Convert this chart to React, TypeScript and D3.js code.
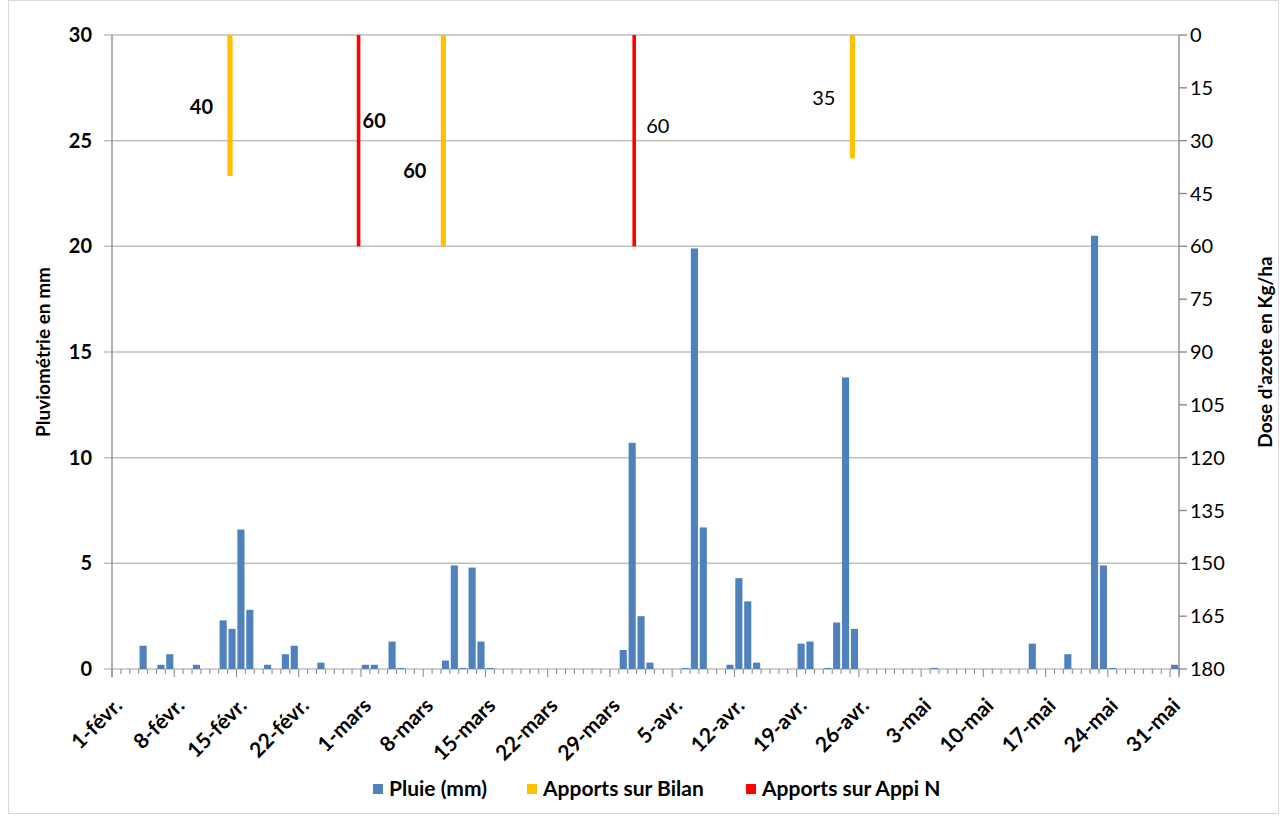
import React from 'react';
import * as d3 from 'd3';

// daily rainfall (mm), 1 févr. -> 31 mai (120 days)
const pluie = [
  0, 0, 0, 1.1, 0, 0.2, 0.7,
  0, 0, 0.2, 0, 0, 2.3, 1.9,
  6.6, 2.8, 0, 0.2, 0, 0.7, 1.1,
  0, 0, 0.3, 0, 0, 0, 0,
  0.2, 0.2, 0, 1.3, 0.05, 0, 0,
  0, 0, 0.4, 4.9, 0.05, 4.8, 1.3,
  0.05, 0, 0, 0, 0, 0, 0,
  0, 0, 0, 0, 0, 0, 0,
  0, 0.9, 10.7, 2.5, 0.3, 0, 0,
  0, 0.05, 19.9, 6.7, 0, 0, 0.2,
  4.3, 3.2, 0.3, 0, 0, 0, 0,
  1.2, 1.3, 0, 0.05, 2.2, 13.8, 1.9,
  0, 0, 0, 0, 0, 0, 0,
  0, 0.05, 0, 0, 0, 0, 0,
  0, 0, 0, 0, 0, 1.2, 0,
  0, 0, 0.7, 0, 0, 20.5, 4.9,
  0.05, 0, 0, 0, 0, 0, 0,
  0.2,
];

const tickLabels = [
  '1-févr.', '8-févr.', '15-févr.', '22-févr.', '1-mars', '8-mars', '15-mars',
  '22-mars', '29-mars', '5-avr.', '12-avr.', '19-avr.', '26-avr.', '3-mai',
  '10-mai', '17-mai', '24-mai', '31-mai',
];

// nitrogen applications (day index, dose kg/ha, label height in dose units)
const bilanDay = [13, 37, 83];
const bilanDose = [40, 60, 35];
const bilanLabelAt = [20.4, 38.6, 17.9];
const appiDay = [27, 58];
const appiDose = [60, 60];
const appiLabelAt = [24.4, 25.8];

const leftTicks = [0, 5, 10, 15, 20, 25, 30];
const rightTicks = [0, 15, 30, 45, 60, 75, 90, 105, 120, 135, 150, 165, 180];

const BLUE = '#4F81BD';
const YELLOW = '#FFC000';
const RED = '#FF0000';
const GRID = '#bfbfbf';
const AXIS = '#868686';
const FONT = 'Lato, "Open Sans", sans-serif';

const W = 1282;
const H = 816;
const left = 112;
const right = 1179;
const top = 35;
const bottom = 669;

export default function App() {
  const days = d3.range(pluie.length);
  const x = d3.scaleBand<number>().domain(days).range([left, right]).paddingInner(0.2).paddingOuter(0.1);
  const step = x.step();
  const start = (i: number) => left + i * step;
  const center = (i: number) => start(i) + step / 2;
  const y = d3.scaleLinear().domain([0, 30]).range([bottom, top]);
  const yR = d3.scaleLinear().domain([0, 180]).range([top, bottom]);
  const sub = d3.scalePoint<string>().domain(['bilan', 'appi']).range([0.27 * step, 0.73 * step]);

  const tickIdx = tickLabels.map((_, k) => k * 7);

  return (
    <svg width={W} height={H} style={{ position: 'absolute', left: 0, top: 0, background: '#fff' }}
      fontFamily={FONT}>
      <rect x={8.5} y={0.5} width={1270} height={813} fill="#fff" stroke="#d9d9d9" />

      {/* gridlines */}
      {leftTicks.map(t => (
        <line key={'g' + t} x1={left - 8} x2={right} y1={y(t)} y2={y(t)} stroke={GRID} strokeWidth={1.5} />
      ))}

      {/* rain bars */}
      {pluie.map((v, i) => v > 0 && (
        <rect key={'b' + i} x={x(i)} width={x.bandwidth()} y={y(v)} height={bottom - y(v)} fill={BLUE} />
      ))}

      {/* nitrogen applications */}
      {bilanDay.map((d, k) => (
        <rect key={'y' + k} x={start(d) + sub('bilan')! - 2.6} width={5.2} y={yR(0)}
          height={yR(bilanDose[k]) - yR(0)} fill={YELLOW} />
      ))}
      {appiDay.map((d, k) => (
        <rect key={'r' + k} x={start(d) + sub('appi')! - 1.8} width={3.6} y={yR(0)}
          height={yR(appiDose[k]) - yR(0)} fill={RED} />
      ))}
      {bilanDay.map((d, k) => (
        <text key={'yl' + k} x={start(d) + sub('bilan')! - 17} y={yR(bilanLabelAt[k])} dy="0.35em"
          textAnchor="end" fontSize={20} fontWeight={k === 2 ? 400 : 700} fill="#000">{bilanDose[k]}</text>
      ))}
      {appiDay.map((d, k) => (
        <text key={'rl' + k} x={start(d) + sub('appi')! + (k === 0 ? 4 : 12)} y={yR(appiLabelAt[k])} dy="0.35em"
          textAnchor="start" fontSize={20} fontWeight={k === 0 ? 700 : 400} fill="#000">{appiDose[k]}</text>
      ))}

      {/* axes lines */}
      <line x1={left} x2={left} y1={top} y2={bottom + 8} stroke={AXIS} strokeWidth={1.3} />
      <line x1={right} x2={right} y1={top} y2={bottom + 8} stroke={AXIS} strokeWidth={1.3} />
      {rightTicks.map(t => (
        <line key={'rt' + t} x1={right} x2={right + 8} y1={yR(t)} y2={yR(t)} stroke={AXIS} strokeWidth={1.3} />
      ))}
      {d3.range(pluie.length + 1).map(i => (
        <line key={'xt' + i} x1={start(i)} x2={start(i)} y1={bottom}
          y2={bottom + (i % 7 === 0 ? 8 : 5)} stroke={AXIS} strokeWidth={1} />
      ))}

      {/* tick labels */}
      {leftTicks.map(t => (
        <text key={'lt' + t} x={92} y={y(t)} dy="0.35em" textAnchor="end" fontSize={20} fontWeight={700}>{t}</text>
      ))}
      {rightTicks.map(t => (
        <text key={'rl' + t} x={1190} y={yR(t)} dy="0.35em" textAnchor="start" fontSize={20}>{t}</text>
      ))}
      {tickIdx.map((d, k) => (
        <text key={'xl' + k} transform={`translate(${center(d) + 7},${707}) rotate(-45)`}
          textAnchor="end" fontSize={21} fontWeight={700}>{tickLabels[k]}</text>
      ))}

      {/* axis titles */}
      <text transform={`translate(50,${(top + bottom) / 2}) rotate(-90)`} textAnchor="middle"
        fontSize={19} fontWeight={700}>Pluviométrie en mm</text>
      <text transform={`translate(1272,${(top + bottom) / 2}) rotate(-90)`} textAnchor="middle"
        fontSize={19} fontWeight={700}>Dose d'azote en Kg/ha</text>

      {/* legend */}
      {[
        { label: 'Pluie (mm)', color: BLUE, x: 373 },
        { label: 'Apports sur Bilan', color: YELLOW, x: 527 },
        { label: 'Apports sur Appi N', color: RED, x: 746 },
      ].map(l => (
        <g key={l.label}>
          <rect x={l.x} y={784} width={10} height={10} fill={l.color} />
          <text x={l.x + 16} y={789} dy="0.35em" fontSize={21} fontWeight={700}>{l.label}</text>
        </g>
      ))}
    </svg>
  );
}
